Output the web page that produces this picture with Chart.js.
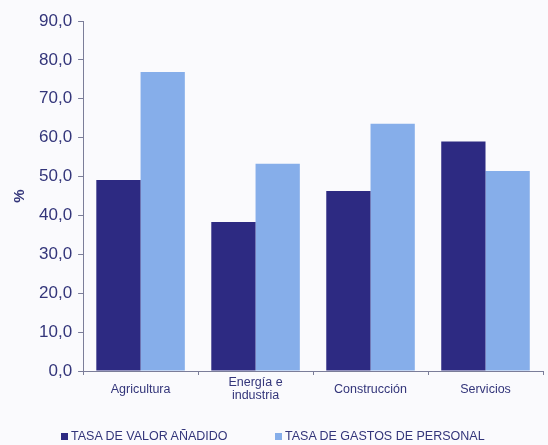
<!DOCTYPE html>
<html>
<head>
<meta charset="utf-8">
<script src="https://cdn.jsdelivr.net/npm/chart.js@4/dist/chart.umd.min.js"></script>
<style>
  html, body { margin: 0; padding: 0; background: #fafafd; }
  #wrap { position: relative; width: 548px; height: 445px; }
  #legend { position: absolute; top: 429px; left: 0; width: 548px; font: 12.5px "Liberation Sans", Arial, sans-serif; color: #33357a; }
  #legend span { position: absolute; white-space: nowrap; }
  #legend i { display: inline-block; width: 7px; height: 7px; margin-right: 3px; vertical-align: 0; }
</style>
</head>
<body>
<div id="wrap">
  <canvas id="chart" width="548" height="445"></canvas>
  <div id="legend"></div>
</div>
<script>
// categorías y tasas (%)
const categories = ['Agricultura', ['Energía e', 'industria'], 'Construcción', 'Servicios'];
const valorAnadido = [49.1, 38.3, 46.3, 59.0];
const gastosPersonal = [76.9, 53.3, 63.6, 51.4];
const seriesNames = ['TASA DE VALOR AÑADIDO', 'TASA DE GASTOS DE PERSONAL'];
const seriesColors = ['#2d2a82', '#86aeea'];

const axisColor = '#7b7d99';
const textColor = '#33357a';

new Chart(document.getElementById('chart'), {
  type: 'bar',
  data: {
    labels: categories,
    datasets: [
      { label: seriesNames[0], data: valorAnadido, backgroundColor: seriesColors[0] },
      { label: seriesNames[1], data: gastosPersonal, backgroundColor: seriesColors[1] }
    ]
  },
  options: {
    responsive: false,
    animation: false,
    categoryPercentage: 0.77,
    barPercentage: 1,
    layout: { padding: { top: 21, right: 5, bottom: 29, left: 11 } },
    plugins: { legend: { display: false }, tooltip: { enabled: false } },
    scales: {
      x: {
        grid: { drawOnChartArea: false, drawTicks: true, tickLength: 4, color: axisColor, offset: true },
        border: { color: axisColor, width: 1 },
        ticks: {
          color: textColor,
          font: { family: 'Liberation Sans', size: 12.5, lineHeight: 1 },
          padding: 8,
          maxRotation: 0,
          crossAlign: 'center'
        }
      },
      y: {
        min: 0,
        max: 90,
        ticks: {
          stepSize: 10,
          color: textColor,
          font: { family: 'Liberation Sans', size: 17 },
          padding: 6,
          callback: v => v.toFixed(1).replace('.', ',')
        },
        grid: { drawOnChartArea: false, drawTicks: true, tickLength: 5, color: axisColor },
        border: { color: axisColor, width: 1 },
        title: { display: true, text: '%', color: textColor, font: { family: 'Liberation Sans', size: 15, weight: 'bold' }, padding: { top: 0, bottom: 4 } }
      }
    }
  }
});

// leyenda
const legend = document.getElementById('legend');
const legendX = [61, 275];
seriesNames.forEach((name, i) => {
  const s = document.createElement('span');
  s.style.left = legendX[i] + 'px';
  s.innerHTML = `<i style="background:${seriesColors[i]}"></i>${name}`;
  legend.appendChild(s);
});
</script>
</body>
</html>
